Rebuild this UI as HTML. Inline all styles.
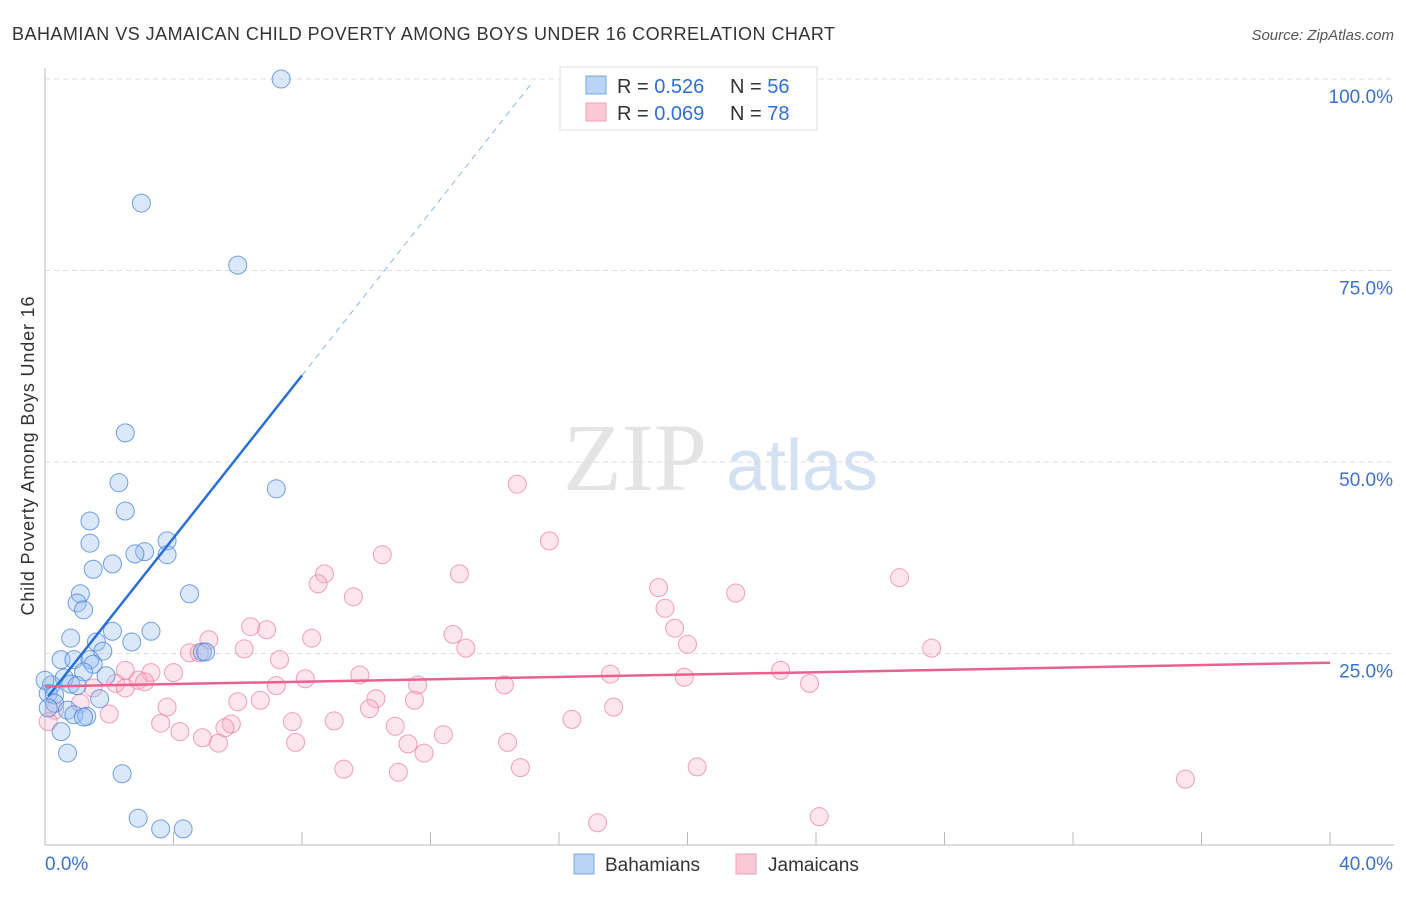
<!DOCTYPE html>
<html><head><meta charset="utf-8"><style>
body{margin:0;background:#fff;font-family:"Liberation Sans",sans-serif}
</style></head><body>
<svg width="1406" height="892" viewBox="0 0 1406 892" xmlns="http://www.w3.org/2000/svg">
<text x="12" y="40" font-size="18" fill="#333" textLength="823">BAHAMIAN VS JAMAICAN CHILD POVERTY AMONG BOYS UNDER 16 CORRELATION CHART</text>
<text x="1394" y="40" font-size="15" fill="#555" text-anchor="end" font-style="italic">Source: ZipAtlas.com</text>
<text x="635" y="490" font-size="96" fill="#e4e4e4" font-family="Liberation Serif,serif" text-anchor="middle">ZIP</text>
<text x="802" y="490" font-size="72" fill="#d3e1f3" text-anchor="middle">atlas</text>
<g id="grid"></g>
<g id="axes"></g>
<g id="pts"></g>
<g id="lines"></g>
<text x="0" y="0" transform="translate(34,456) rotate(-90)" font-size="18" fill="#333" text-anchor="middle" textLength="319">Child Poverty Among Boys Under 16</text>
<g>
<rect x="560" y="67" width="257" height="63" fill="#fff" stroke="#ddd"/>
<rect x="586" y="76" width="20" height="18" fill="#b9d3f5" stroke="#7aa7e0"/>
<rect x="586" y="103" width="20" height="18" fill="#fbc8d7" stroke="#f0a0b8"/>
<text x="617" y="93" font-size="20" fill="#333">R = <tspan fill="#2f6fd6">0.526</tspan></text>
<text x="730" y="93" font-size="20" fill="#333">N = <tspan fill="#2f6fd6">56</tspan></text>
<text x="617" y="120" font-size="20" fill="#333">R = <tspan fill="#2f6fd6">0.069</tspan></text>
<text x="730" y="120" font-size="20" fill="#333">N = <tspan fill="#2f6fd6">78</tspan></text>
</g>
<g>
<rect x="574" y="854" width="20" height="20" fill="#b9d3f5" stroke="#7aa7e0"/>
<text x="605" y="871" font-size="19" fill="#333">Bahamians</text>
<rect x="736" y="854" width="20" height="20" fill="#fbc8d7" stroke="#f0a0b8"/>
<text x="768" y="871" font-size="19" fill="#333">Jamaicans</text>
</g>
</svg>
<script>
const blueX=[7.35,3.0,6.0,2.5,2.3,7.2,2.5,1.4,1.4,3.8,3.1,2.8,3.8,2.1,1.5,1.1,4.5,1.0,1.2,3.3,2.1,0.8,1.6,2.7,4.9,1.8,0.5,0.9,1.4,1.5,1.2,1.9,0.6,0.8,0.2,0.1,0.3,1.0,1.7,0.3,0.1,0.7,0.9,1.3,1.2,0.5,0.7,2.4,2.9,3.6,4.3,5.0,0.0];
const blueY=[100,83.8,75.7,53.8,47.3,46.5,43.6,42.3,39.4,39.7,38.3,38.0,37.9,36.7,36.0,32.8,32.8,31.6,30.7,27.9,27.9,27.0,26.5,26.5,25.2,25.3,24.2,24.2,24.2,23.6,22.6,22.1,21.8,21.0,20.9,19.8,19.6,20.8,19.1,18.5,17.9,17.6,17.0,16.8,16.7,14.8,12.0,9.3,3.5,2.1,2.1,25.2,21.5];
const pinkX=[14.7,15.7,10.5,12.9,8.7,8.5,26.6,19.1,9.6,21.5,19.3,6.4,6.9,19.6,12.7,8.3,5.1,20.0,13.1,6.2,27.6,4.5,4.8,7.3,2.5,3.3,4.0,22.9,17.6,9.8,19.9,8.1,2.9,3.1,2.2,23.8,11.6,7.2,14.3,2.5,1.5,10.3,11.5,6.0,6.7,1.1,3.8,10.1,17.7,2.0,0.3,0.1,16.4,3.6,7.7,9.0,5.8,5.6,10.9,4.2,4.9,12.4,5.4,7.8,11.3,14.4,11.8,9.3,11.0,14.8,20.3,35.5,17.2,24.1];
const pinkY=[47.1,39.7,37.9,35.4,35.4,34.1,34.9,33.6,32.4,32.9,30.9,28.5,28.1,28.3,27.5,27.0,26.8,26.2,25.7,25.6,25.7,25.1,25.1,24.2,22.8,22.5,22.5,22.8,22.3,22.2,21.9,21.7,21.5,21.3,21.1,21.1,20.9,20.8,20.9,20.5,20.5,19.1,18.9,18.7,18.9,18.5,18.0,17.8,18.0,17.1,17.6,16.1,16.4,15.9,16.1,16.2,15.8,15.3,15.5,14.8,14.0,14.4,13.3,13.4,13.2,13.4,12.0,9.9,9.5,10.1,10.2,8.6,2.9,3.7];
const yTicks=[25,50,75,100];
const yTickLabels=["25.0%","50.0%","75.0%","100.0%"];
const xTicks=[0,4,8,12,16,20,24,28,32,36,40];
const blueFit=[0,18.9,8,61.3,15.1,99.2];
const pinkFit=[0,20.7,40,23.8];
const NS='http://www.w3.org/2000/svg';
const sx=v=>45+v*32.125, sy=v=>845-v*7.66;
function mk(t,a,p){const e=document.createElementNS(NS,t);for(const k in a)e.setAttribute(k,a[k]);document.getElementById(p).appendChild(e);return e;}
yTicks.forEach((t,i)=>{
 const g=mk('line',{x1:45,x2:1394,y1:sy(t),y2:sy(t),stroke:'#ddd','stroke-dasharray':'5,4'},'grid');
 
 
 const l=mk('text',{x:1393,y:sy(t)+24,'font-size':19,fill:'#3a72d0','text-anchor':'end'},'axes');
 l.textContent=yTickLabels[i];
 
 
});
const ax=mk('line',{x1:45,x2:45,y1:68,y2:845,stroke:'#bbb'},'axes');


const bx=mk('line',{x1:45,x2:1394,y1:845,y2:845,stroke:'#bbb'},'axes');


xTicks.forEach(t=>{const e=mk('line',{x1:sx(t),x2:sx(t),y1:832,y2:845,stroke:'#bbb'},'axes');
 
 });
[[0,"0.0%",'start',45],[40,"40.0%",'end',1393]].forEach(d=>{const e=mk('text',{x:d[3],y:870,'font-size':19,fill:'#3a72d0','text-anchor':d[2]},'axes');e.textContent=d[1];
 
 });
pinkX.forEach((x,i)=>{const c=mk('circle',{cx:sx(x),cy:sy(pinkY[i]),r:9,fill:'rgba(248,170,195,0.3)',stroke:'rgba(235,130,165,0.75)','stroke-width':1},'pts');
 
 });
blueX.forEach((x,i)=>{const c=mk('circle',{cx:sx(x),cy:sy(blueY[i]),r:9,fill:'rgba(150,190,240,0.35)',stroke:'rgba(70,130,215,0.75)','stroke-width':1},'pts');
 
 });
const b1=mk('line',{x1:sx(blueFit[0]+0.1),y1:sy(blueFit[1]+0.5),x2:sx(blueFit[2]),y2:sy(blueFit[3]),stroke:'#2a6fd6','stroke-width':2.5},'lines');


const b2=mk('line',{x1:sx(blueFit[2]),y1:sy(blueFit[3]),x2:sx(blueFit[4]),y2:sy(blueFit[5]),stroke:'#8fb3e8','stroke-width':1,'stroke-dasharray':'6,5'},'lines');


const p1=mk('line',{x1:sx(pinkFit[0]),y1:sy(pinkFit[1]),x2:sx(pinkFit[2]),y2:sy(pinkFit[3]),stroke:'#e8628f','stroke-width':2.5},'lines');


</script>
</body></html>
